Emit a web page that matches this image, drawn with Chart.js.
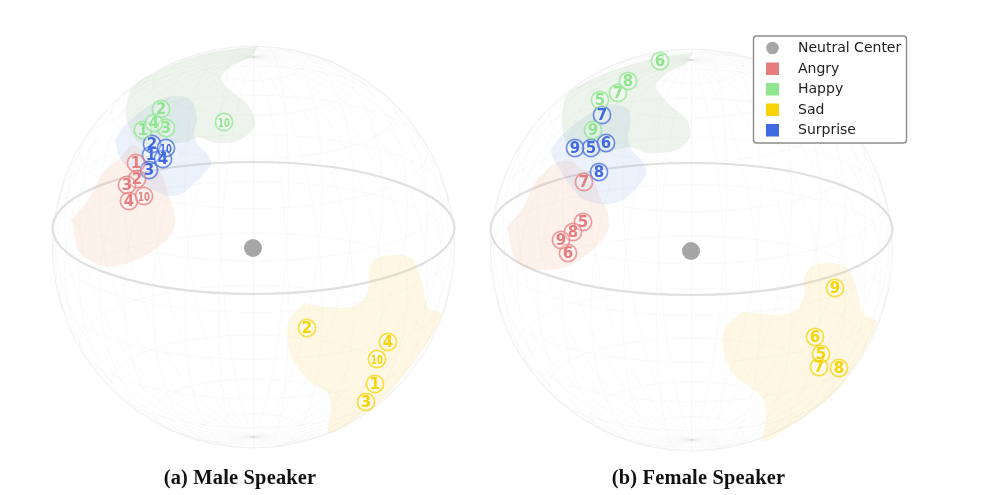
<!DOCTYPE html>
<html>
<head>
<meta charset="utf-8">
<style>
  html, body { margin: 0; background: #fff; }
  #wrap { position: relative; width: 983px; height: 495px; overflow: hidden; }
  #chart { position: absolute; left: 0; top: 0; filter: blur(0.5px); }
  .cap { position: absolute; top: 466px; font: bold 20.4px "Liberation Serif", serif; letter-spacing: 0.2px; color: #111; white-space: nowrap; transform: translateX(-50%); }
</style>
<script src="https://cdn.jsdelivr.net/npm/chart.js@4"></script>
</head>
<body>
<div id="wrap">
  <canvas id="chart" width="983" height="495"></canvas>
  <div class="cap" style="left:240px">(a) Male Speaker</div>
  <div class="cap" style="left:698.5px">(b) Female Speaker</div>
</div>
<script>
// values, in picture units
const neutral = [{x: 253, y: 248}, {x: 691, y: 251}];

const maleAngry = [{x:136,y:163,n:'1'},{x:137,y:179,n:'2'},{x:127,y:185,n:'3'},{x:129,y:201,n:'4'},{x:144,y:196,n:'10'}];
const maleHappy = [{x:143,y:130,n:'1'},{x:161,y:109,n:'2'},{x:166,y:128,n:'3'},{x:154,y:123,n:'4'},{x:224,y:122,n:'10'}];
const maleSad = [{x:375,y:384,n:'1'},{x:307,y:328,n:'2'},{x:366,y:402,n:'3'},{x:388,y:342,n:'4'},{x:377,y:359,n:'10'}];
const maleSurprise = [{x:151,y:155,n:'1'},{x:152,y:144,n:'2'},{x:149,y:170,n:'3'},{x:163,y:159,n:'4'},{x:166,y:148,n:'10'}];

const femaleAngry = [{x:583,y:222,n:'5'},{x:568,y:253,n:'6'},{x:584,y:182,n:'7'},{x:573,y:232,n:'8'},{x:561,y:240,n:'9'}];
const femaleHappy = [{x:600,y:100,n:'5'},{x:660,y:61,n:'6'},{x:618,y:93,n:'7'},{x:628,y:81,n:'8'},{x:593,y:130,n:'9'}];
const femaleSad = [{x:821,y:354,n:'5'},{x:815,y:337,n:'6'},{x:819,y:367,n:'7'},{x:839,y:368,n:'8'},{x:835,y:288,n:'9'}];
const femaleSurprise = [{x:591,y:148,n:'5'},{x:606,y:143,n:'6'},{x:602,y:115,n:'7'},{x:599,y:172,n:'8'},{x:575,y:148,n:'9'}];

// shaded emotion regions
const maleAngryRegion = [[72,220],[80,253],[110,267],[150,253],[172,233],[175,217],[168,193],[163,177],[150,160],[133,145],[120,158],[103,172],[90,197],[72,220]];
const maleHappyRegion = [[258,46],[227,50],[190,58],[157,72],[132,88],[126,113],[130,130],[140,143],[187,142],[197,137],[217,143],[240,140],[255,125],[248,105],[230,90],[221,78],[230,67],[253,55],[258,46]];
const maleSadRegion = [[305,303],[290,318],[287,337],[293,360],[310,382],[328,393],[331,407],[329,433],[357,418],[385,397],[413,363],[442,315],[428,307],[423,287],[413,260],[398,255],[377,258],[369,270],[370,283],[365,298],[350,307],[327,307],[305,303]];
const maleSurpriseRegion = [[115,140],[120,158],[137,177],[153,190],[170,196],[183,193],[210,167],[210,158],[197,143],[194,133],[197,118],[190,99],[173,96],[150,105],[123,127],[115,140]];

const femaleAngryRegion = [[507,228],[515,260],[530,269],[563,268],[593,250],[608,230],[608,213],[600,197],[595,183],[573,162],[558,162],[537,180],[523,207],[507,228]];
const femaleHappyRegion = [[693,53],[660,57],[623,67],[590,80],[567,95],[562,123],[567,143],[590,155],[630,147],[647,153],[677,150],[690,137],[687,120],[670,105],[656,87],[667,73],[687,63],[693,53]];
const femaleSadRegion = [[742,312],[725,328],[723,347],[732,373],[763,398],[766,420],[763,441],[800,420],[840,387],[877,323],[863,313],[857,290],[847,268],[828,263],[810,268],[804,280],[805,293],[798,308],[783,315],[742,312]];
const femaleSurpriseRegion = [[550,150],[555,162],[580,197],[603,204],[623,200],[645,177],[645,165],[632,150],[628,137],[631,123],[627,108],[610,105],[587,115],[560,137],[550,150]];

const legendNames = ['Neutral Center', 'Angry', 'Happy', 'Sad', 'Surprise'];
const colors = {Angry: '#e67c7c', Happy: '#8fe68f', Sad: '#f7d308', Surprise: '#4169e1', Neutral: '#a6a6a6'};
const regionFill = {Angry: 'rgba(238,140,100,0.12)', Happy: 'rgba(130,180,110,0.14)', Sad: 'rgba(245,205,90,0.16)', Surprise: 'rgba(110,155,230,0.13)'};

const spheres = [{cx: 253.5, cy: 247, r: 201, ringY: 228}, {cx: 691.5, cy: 250, r: 201, ringY: 229}];

function regionSet(pts, name) {
  return {
    data: pts.map(p => ({x: p[0], y: p[1]})),
    showLine: true, tension: 0.3, fill: 'shape', borderWidth: 0, pointRadius: 0,
    backgroundColor: regionFill[name], borderColor: 'transparent', order: 10
  };
}
function pointSet(pts, name) {
  return {
    data: pts, pointRadius: 8.6, pointBorderWidth: 1.7, pointBorderColor: colors[name] + 'bb',
    pointBackgroundColor: 'rgba(255,255,255,0.25)', textColor: colors[name], order: 1
  };
}

// faint globe and the ring round it
const globe = {
  id: 'globe',
  beforeDatasetsDraw(chart) {
    const {ctx, scales: {x, y}} = chart;
    const tilt = 19 * Math.PI / 180;
    ctx.save();
    spheres.forEach(s => {
      const pos = (lat, lon) => {
        const cl = Math.cos(lat), X = s.r * cl * Math.sin(lon), Y = s.r * Math.sin(lat), Z = s.r * cl * Math.cos(lon);
        return [x.getPixelForValue(s.cx + X), y.getPixelForValue(s.cy - (Y * Math.cos(tilt) - Z * Math.sin(tilt)))];
      };
      ctx.strokeStyle = 'rgba(190,190,190,0.09)';
      ctx.lineWidth = 0.8;
      for (let m = 0; m < 18; m++) {
        ctx.beginPath();
        for (let t = 0; t <= 72; t++) {
          const p = pos(t * Math.PI / 36, m * Math.PI / 18);
          t ? ctx.lineTo(p[0], p[1]) : ctx.moveTo(p[0], p[1]);
        }
        ctx.stroke();
      }
      for (let la = -75; la <= 75; la += 15) {
        ctx.beginPath();
        for (let t = 0; t <= 72; t++) {
          const p = pos(la * Math.PI / 180, t * Math.PI / 36);
          t ? ctx.lineTo(p[0], p[1]) : ctx.moveTo(p[0], p[1]);
        }
        ctx.stroke();
      }
      ctx.strokeStyle = 'rgba(200,200,200,0.2)';
      ctx.lineWidth = 1;
      ctx.beginPath();
      ctx.arc(x.getPixelForValue(s.cx), y.getPixelForValue(s.cy), s.r, 0, Math.PI * 2);
      ctx.stroke();
      // equator ring
      ctx.strokeStyle = '#e0e0e0';
      ctx.lineWidth = 2.2;
      ctx.beginPath();
      ctx.ellipse(x.getPixelForValue(s.cx), y.getPixelForValue(s.ringY), s.r, 66, 0, 0, Math.PI * 2);
      ctx.stroke();
    });
    ctx.restore();
  },
  afterDatasetsDraw(chart) {
    const {ctx} = chart;
    ctx.save();
    // numbers in the circles
    ctx.textAlign = 'center';
    ctx.textBaseline = 'alphabetic';
    chart.data.datasets.forEach((ds, i) => {
      if (!ds.textColor) return;
      chart.getDatasetMeta(i).data.forEach((el, j) => {
        const label = ds.data[j].n;
        ctx.fillStyle = ds.textColor;
        if (label.length > 1) {
          ctx.font = 'bold 12.5px "DejaVu Sans"';
          ctx.save();
          ctx.translate(el.x, el.y + 4.6);
          ctx.scale(0.68, 1);
          ctx.fillText(label, 0, 0);
          ctx.restore();
        } else {
          ctx.font = 'bold 15px "DejaVu Sans"';
          ctx.fillText(label, el.x, el.y + 5.4);
        }
      });
    });
    // legend box
    ctx.fillStyle = 'rgba(255,255,255,0.9)';
    ctx.strokeStyle = '#8c8c8c';
    ctx.lineWidth = 1.4;
    ctx.beginPath();
    ctx.roundRect(753.5, 36, 153, 107, 3);
    ctx.fill();
    ctx.stroke();
    ctx.font = '14px "DejaVu Sans"';
    ctx.textAlign = 'left';
    ctx.textBaseline = 'middle';
    const rowY = [48, 68.5, 89, 109.5, 130];
    legendNames.forEach((name, i) => {
      ctx.fillStyle = i === 0 ? colors.Neutral : colors[name];
      if (i === 0) {
        ctx.beginPath();
        ctx.arc(772.5, rowY[i], 6.3, 0, Math.PI * 2);
        ctx.fill();
      } else {
        ctx.fillRect(766, rowY[i] - 6, 13, 12.5);
      }
      ctx.fillStyle = '#222';
      ctx.fillText(name, 798, rowY[i] + 0.7);
    });
    ctx.restore();
  }
};

new Chart(document.getElementById('chart'), {
  type: 'scatter',
  data: {
    datasets: [
      regionSet(maleHappyRegion, 'Happy'), regionSet(maleSurpriseRegion, 'Surprise'),
      regionSet(maleAngryRegion, 'Angry'), regionSet(maleSadRegion, 'Sad'),
      regionSet(femaleHappyRegion, 'Happy'), regionSet(femaleSurpriseRegion, 'Surprise'),
      regionSet(femaleAngryRegion, 'Angry'), regionSet(femaleSadRegion, 'Sad'),
      {data: neutral, pointRadius: 9, pointBackgroundColor: colors.Neutral, pointBorderWidth: 0, order: 2},
      pointSet(maleAngry, 'Angry'), pointSet(maleHappy, 'Happy'), pointSet(maleSad, 'Sad'), pointSet(maleSurprise, 'Surprise'),
      pointSet(femaleAngry, 'Angry'), pointSet(femaleHappy, 'Happy'), pointSet(femaleSad, 'Sad'), pointSet(femaleSurprise, 'Surprise')
    ]
  },
  options: {
    responsive: false,
    animation: false,
    layout: {padding: 0, autoPadding: false},
    plugins: {legend: {display: false}, tooltip: {enabled: false}},
    scales: {
      x: {display: false, min: 0, max: 983},
      y: {display: false, min: 0, max: 495, reverse: true}
    }
  },
  plugins: [globe]
});
</script>
</body>
</html>
